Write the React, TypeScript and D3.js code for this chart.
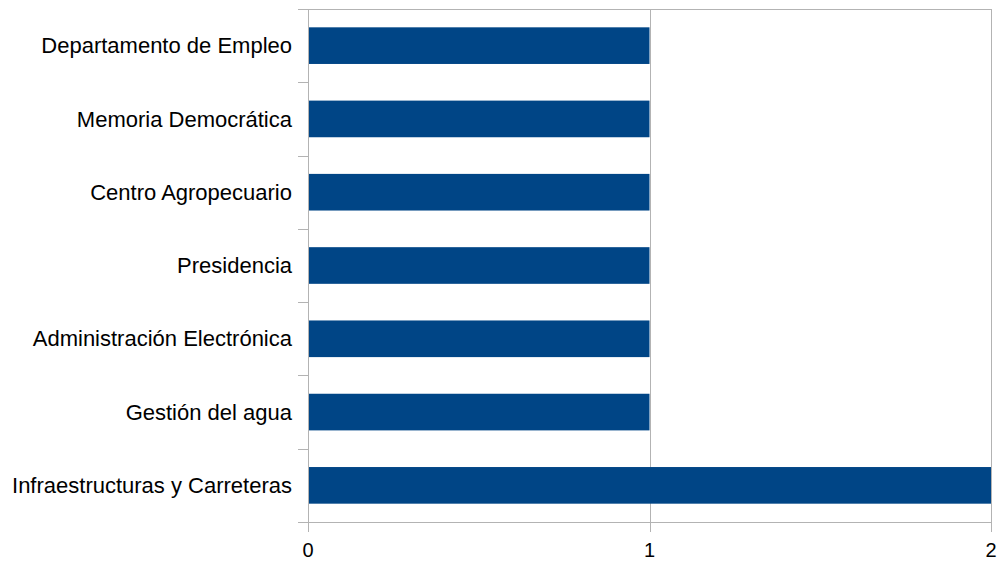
import React from "react";
import * as d3 from "d3";

const categories = [
  "Departamento de Empleo",
  "Memoria Democrática",
  "Centro Agropecuario",
  "Presidencia",
  "Administración Electrónica",
  "Gestión del agua",
  "Infraestructuras y Carreteras",
];
const values = [1, 1, 1, 1, 1, 1, 2];
const xTicks = [0, 1, 2];

export default function App() {
  const W = 998, H = 562;
  const left = 308, right = 991, top = 9, bottom = 522;
  const x = d3.scaleLinear().domain([0, 2]).range([left, right]);
  const y = d3.scaleBand().domain(categories).range([top, bottom]).paddingInner(0.5).paddingOuter(0.25);
  const yb = d3.scaleBand().domain(categories).range([top, bottom]);
  const grid = "#b3b3b3";
  const font = "'Liberation Sans', Arial, sans-serif";
  return (
    <svg width={W} height={H} style={{ position: "absolute", left: 0, top: 0, background: "#fff" }}>
      <line x1={298} x2={right} y1={top + 0.5} y2={top + 0.5} stroke={grid} />
      {xTicks.map((t) => (
        <line key={"g" + t} x1={Math.round(x(t)) + 0.5} x2={Math.round(x(t)) + 0.5} y1={top} y2={bottom + 10} stroke={grid} />
      ))}
      {categories.map((c) => (
        <line key={"t" + c} x1={298} x2={left} y1={Math.round(yb(c)! + yb.bandwidth()) + 0.5} y2={Math.round(yb(c)! + yb.bandwidth()) + 0.5} stroke={grid} />
      ))}
      <line x1={298} x2={right} y1={bottom + 0.5} y2={bottom + 0.5} stroke={grid} />
      {categories.map((c, i) => (
        <rect key={c} x={x(0) + 1} y={y(c)} width={x(values[i]) - x(0) - 1} height={y.bandwidth()} fill="#004586" />
      ))}
      {categories.map((c) => (
        <text key={"l" + c} x={292} y={yb(c)! + yb.bandwidth() / 2} dy="0.35em" textAnchor="end" fontFamily={font} fontSize={22} fill="#000">
          {c}
        </text>
      ))}
      {xTicks.map((t) => (
        <text key={"x" + t} x={x(t)} y={557} textAnchor="middle" fontFamily={font} fontSize={20} fill="#000">
          {t}
        </text>
      ))}
    </svg>
  );
}
